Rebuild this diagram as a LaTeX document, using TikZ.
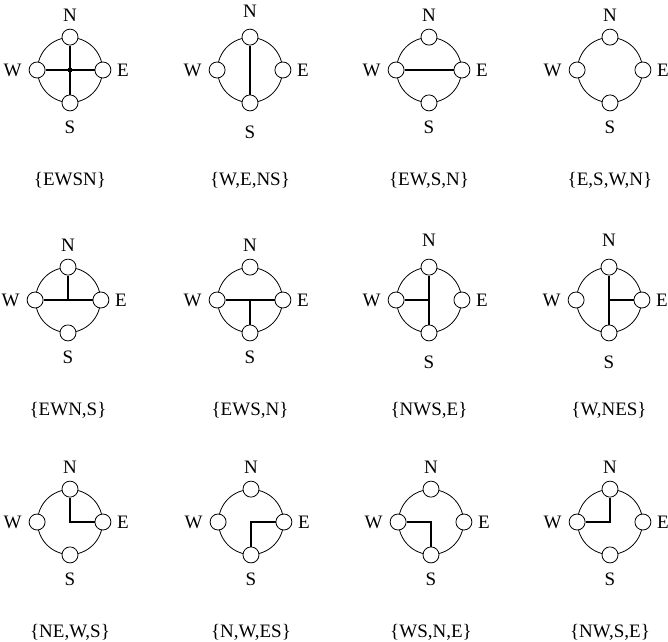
\documentclass[tikz,border=0pt]{standalone}
\usepackage{fontspec}
\setmainfont{Liberation Serif}
\usepackage{tikz}
\usetikzlibrary{positioning}

% one compass: ring, four ports, their letters and the set below
\newcommand{\compass}[4][0pt]{%
  \node[ring] (#2) at (#3) {};
  \node[port] (#2-N) at (#2.north) {};
  \node[port] (#2-E) at (#2.east) {};
  \node[port] (#2-S) at (#2.south) {};
  \node[port] (#2-W) at (#2.west) {};
  \node[lbl, above=7pt of #2-N, yshift=#1] (#2-lN) {N};
  \node[lbl, below=9.5pt of #2-S, yshift=-#1] (#2-lS) {S};
  \node[lbl, left=7pt of #2-W] (#2-lW) {W};
  \node[lbl, right=5.5pt of #2-E] (#2-lE) {E};
  \path (#2) ++(0,110) node[lbl] (#2-set) {#4};
}

\begin{document}
\begin{tikzpicture}[
  x=1pt, y=-1pt,
  ring/.style={draw, circle, line width=0.8pt, minimum size=65pt, inner sep=0pt},
  port/.style={draw, circle, fill=white, line width=0.8pt, minimum size=16pt, inner sep=0pt},
  lbl/.style={inner sep=0pt, font=\fontsize{19}{21}\selectfont},
  wire/.style={line width=1.6pt},
  junction/.style={circle, fill, inner sep=0pt, minimum size=5pt},
]
\useasboundingbox (0,0) rectangle (668,641);

% Row 1
\compass{c1}{70,70}{\{EWSN\}}
\compass[4.5pt]{c2}{250,70}{\{W,E,NS\}}
\compass{c3}{429,70}{\{EW,S,N\}}
\compass{c4}{610,70}{\{E,S,W,N\}}

% Row 2
\compass{c5}{68,300}{\{EWN,S\}}
\compass{c6}{250,300}{\{EWS,N\}}
\compass[5pt]{c7}{429,300}{\{NWS,E\}}
\compass[5pt]{c8}{609,300}{\{W,NES\}}

% Row 3
\compass{c9}{70,522}{\{NE,W,S\}}
\compass{c10}{251,522}{\{N,W,ES\}}
\compass{c11}{431,522}{\{WS,N,E\}}
\compass{c12}{610,522}{\{NW,S,E\}}

\draw[wire] (c1-W) -- (c1-E); \draw[wire] (c1-N) -- (c1-S);
\node[junction] (c1-j) at (c1.center) {};
\draw[wire] (c2-N) -- (c2-S);
\draw[wire] (c3-W) -- (c3-E);

\draw[wire] (c5-W) -- (c5-E); \draw[wire] (c5-N) -- (c5.center);
\draw[wire] (c6-W) -- (c6-E); \draw[wire] (c6.center) -- (c6-S);
\draw[wire] (c7-N) -- (c7-S); \draw[wire] (c7-W) -- (c7.center);
\draw[wire] (c8-N) -- (c8-S); \draw[wire] (c8.center) -- (c8-E);

\draw[wire] (c9-N) |- (c9-E);
\draw[wire] (c10-E) -| (c10-S);
\draw[wire] (c11-W) -| (c11-S);
\draw[wire] (c12-W) -| (c12-N);
\end{tikzpicture}
\end{document}
